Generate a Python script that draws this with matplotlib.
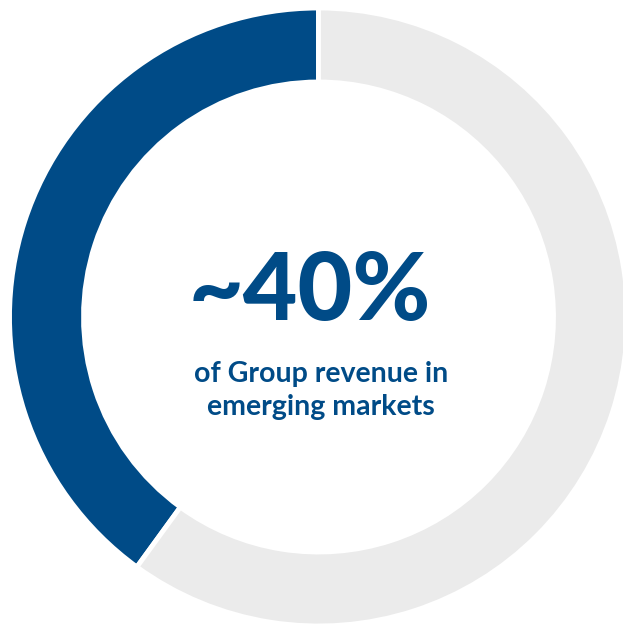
import matplotlib
matplotlib.use("Agg")
import matplotlib.pyplot as plt

# share of group revenue
labels = ["Emerging markets", "Other markets"]
shares = [40, 60]
colors = ["#004B87", "#EBEBEB"]

headline = "~40%"
caption_lines = ["of Group revenue in", "emerging markets"]

W, H = 623, 625
fig = plt.figure(figsize=(W / 100, H / 100), dpi=100)
ax = fig.add_axes([0, 0, 1, 1])

cx, cy = 318.5, H - 317
ax.pie(shares, labels=None, colors=colors, startangle=90, counterclock=True,
       center=(cx, cy), radius=309, frame=True,
       wedgeprops=dict(width=74, edgecolor="white", linewidth=3.5))
ax.set_xlim(0, W)
ax.set_ylim(0, H)
ax.set_aspect("equal")
ax.axis("off")

font = ["Lato", "DejaVu Sans"]
ax.text(310, H - 320, headline, ha="center", va="baseline", fontsize=68,
        fontweight="black", family=font, color="#004B87")
for i, line in enumerate(caption_lines):
    ax.text(321, H - 382 - 33 * i, line, ha="center", va="baseline",
            fontsize=20.5, fontweight="bold", family=font, color="#004B87")

fig.savefig("out.png", dpi=100)
